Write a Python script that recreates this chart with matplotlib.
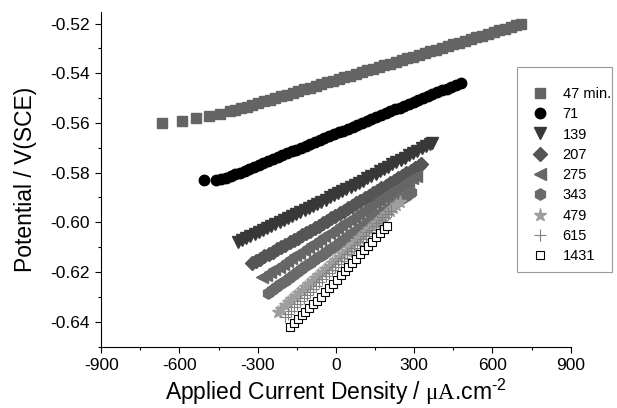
import matplotlib
matplotlib.use('Agg')
import matplotlib.pyplot as plt
from matplotlib.ticker import MultipleLocator, FormatStrFormatter
from matplotlib.patches import Rectangle

plt.rcParams['font.family'] = ['Liberation Sans', 'DejaVu Sans']
plt.rcParams['mathtext.fontset'] = 'custom'
plt.rcParams['mathtext.rm'] = 'Liberation Sans'
plt.rcParams['mathtext.sf'] = 'Liberation Serif'
plt.rcParams['mathtext.default'] = 'regular'
plt.rcParams['axes.unicode_minus'] = False

# 47 min.
x47 = [-667, -590, -535, -488, -446, -408, -386, -364, -342, -320, -298, -276, -254, -232,
       -210, -188, -166, -144, -122, -100, -78, -56, -34, -12, 10, 32, 54, 76, 98, 120, 142,
       164, 186, 208, 230, 252, 274, 296, 318, 340, 362, 384, 406, 428, 450, 472, 494, 516,
       538, 560, 582, 604, 626, 648, 670, 692, 708]
y47 = [-0.5600, -0.5592, -0.5580, -0.5572, -0.5563, -0.5552, -0.5548, -0.5541, -0.5534,
       -0.5527, -0.5520, -0.5513, -0.5507, -0.5500, -0.5493, -0.5486, -0.5479, -0.5472,
       -0.5465, -0.5458, -0.5451, -0.5444, -0.5437, -0.5430, -0.5424, -0.5417, -0.5410,
       -0.5403, -0.5396, -0.5389, -0.5382, -0.5375, -0.5368, -0.5361, -0.5354, -0.5347,
       -0.5340, -0.5333, -0.5326, -0.5319, -0.5312, -0.5305, -0.5298, -0.5291, -0.5284,
       -0.5277, -0.5270, -0.5263, -0.5256, -0.5249, -0.5242, -0.5235, -0.5228, -0.5221,
       -0.5214, -0.5207, -0.5200]

# 71
x71 = [-504, -458, -440, -422, -404, -386, -368, -350, -332, -314, -296, -278, -260, -242,
       -224, -206, -188, -170, -152, -134, -116, -98, -80, -62, -44, -26, -8, 10, 28, 46, 64,
       82, 100, 118, 136, 154, 172, 190, 208, 226, 244, 262, 280, 298, 316, 334, 352, 370,
       388, 406, 424, 442, 460, 478]
y71 = [-0.5830, -0.5830, -0.5826, -0.5820, -0.5814, -0.5807, -0.5800, -0.5792, -0.5785,
       -0.5777, -0.5769, -0.5762, -0.5754, -0.5746, -0.5738, -0.5731, -0.5723, -0.5715,
       -0.5708, -0.5700, -0.5692, -0.5685, -0.5677, -0.5669, -0.5662, -0.5654, -0.5646,
       -0.5638, -0.5631, -0.5623, -0.5615, -0.5608, -0.5600, -0.5592, -0.5585, -0.5577,
       -0.5569, -0.5562, -0.5554, -0.5546, -0.5538, -0.5531, -0.5523, -0.5515, -0.5508,
       -0.5500, -0.5492, -0.5485, -0.5477, -0.5469, -0.5462, -0.5454, -0.5446, -0.5438]

# 139
x139 = [-376, -360, -344, -328, -312, -296, -280, -264, -248, -232, -216, -200, -184, -168,
        -152, -136, -120, -104, -88, -72, -56, -40, -24, -8, 8, 24, 40, 56, 72, 88, 104,
        120, 136, 152, 168, 184, 200, 216, 232, 248, 264, 280, 296, 312, 328, 344, 360, 368]
y139 = [-0.6080, -0.6072, -0.6064, -0.6056, -0.6048, -0.6040, -0.6032, -0.6024, -0.6016,
        -0.6008, -0.6000, -0.5992, -0.5984, -0.5976, -0.5968, -0.5960, -0.5951, -0.5943,
        -0.5934, -0.5926, -0.5917, -0.5909, -0.5900, -0.5892, -0.5883, -0.5874, -0.5866,
        -0.5857, -0.5849, -0.5840, -0.5832, -0.5823, -0.5814, -0.5805, -0.5795, -0.5786,
        -0.5777, -0.5767, -0.5758, -0.5749, -0.5740, -0.5730, -0.5721, -0.5712, -0.5702,
        -0.5693, -0.5684, -0.5680]

# 207
x207 = [-322, -306, -290, -274, -258, -242, -226, -210, -194, -178, -162, -146, -130, -114,
        -98, -82, -66, -50, -34, -18, -2, 14, 30, 46, 62, 78, 94, 110, 126, 142, 158, 174,
        190, 206, 222, 238, 254, 270, 286, 302, 318, 326]
y207 = [-0.6165, -0.6156, -0.6146, -0.6137, -0.6128, -0.6118, -0.6109, -0.6100, -0.6091,
        -0.6081, -0.6072, -0.6063, -0.6053, -0.6043, -0.6033, -0.6023, -0.6013, -0.6003,
        -0.5993, -0.5983, -0.5973, -0.5963, -0.5953, -0.5943, -0.5933, -0.5923, -0.5913,
        -0.5903, -0.5893, -0.5883, -0.5873, -0.5863, -0.5853, -0.5843, -0.5833, -0.5823,
        -0.5813, -0.5803, -0.5793, -0.5783, -0.5773, -0.5766]

# 275
x275 = [-284, -268, -252, -236, -220, -204, -188, -172, -156, -140, -124, -108, -92, -76,
        -60, -44, -28, -12, 4, 20, 36, 52, 68, 84, 100, 116, 132, 148, 164, 180, 196, 212,
        228, 244, 260, 276, 292, 307]
y275 = [-0.6222, -0.6211, -0.6200, -0.6189, -0.6178, -0.6167, -0.6155, -0.6144, -0.6133,
        -0.6122, -0.6111, -0.6100, -0.6089, -0.6078, -0.6067, -0.6056, -0.6044, -0.6033,
        -0.6022, -0.6011, -0.6000, -0.5989, -0.5978, -0.5967, -0.5956, -0.5945, -0.5933,
        -0.5922, -0.5911, -0.5900, -0.5889, -0.5878, -0.5867, -0.5856, -0.5845, -0.5834,
        -0.5822, -0.5812]

# 343
x343 = [-261, -245, -229, -213, -197, -181, -165, -149, -133, -117, -101, -85, -69, -53,
        -37, -21, -5, 11, 27, 43, 59, 75, 91, 107, 123, 139, 155, 171, 187, 203, 219, 235,
        251, 267, 283, 288]
y343 = [-0.6283, -0.6271, -0.6259, -0.6248, -0.6236, -0.6224, -0.6212, -0.6200, -0.6189,
        -0.6177, -0.6165, -0.6153, -0.6141, -0.6130, -0.6118, -0.6106, -0.6094, -0.6082,
        -0.6071, -0.6059, -0.6047, -0.6035, -0.6023, -0.6012, -0.6000, -0.5988, -0.5976,
        -0.5964, -0.5953, -0.5941, -0.5929, -0.5917, -0.5905, -0.5894, -0.5882, -0.5877]

# 479
x479 = [-223, -210, -197, -184, -171, -158, -145, -132, -119, -106, -93, -80, -67, -54,
        -41, -28, -15, -2, 11, 24, 37, 50, 63, 76, 89, 102, 115, 128, 141, 154, 167, 180,
        193, 206, 219, 232, 245]
y479 = [-0.6359, -0.6347, -0.6334, -0.6322, -0.6310, -0.6298, -0.6285, -0.6273, -0.6261,
        -0.6249, -0.6237, -0.6224, -0.6212, -0.6200, -0.6188, -0.6175, -0.6163, -0.6151,
        -0.6139, -0.6126, -0.6114, -0.6102, -0.6090, -0.6077, -0.6065, -0.6053, -0.6041,
        -0.6028, -0.6016, -0.6004, -0.5992, -0.5979, -0.5967, -0.5955, -0.5943, -0.5930,
        -0.5918]

# 615
x615 = [-196, -184, -172, -160, -148, -136, -124, -112, -100, -88, -76, -64, -52, -40,
        -28, -16, -4, 8, 20, 32, 44, 56, 68, 80, 92, 104, 116, 128, 140, 152, 164, 176,
        188, 200, 212]
y615 = [-0.6380, -0.6367, -0.6355, -0.6342, -0.6330, -0.6317, -0.6305, -0.6292, -0.6280,
        -0.6267, -0.6255, -0.6242, -0.6229, -0.6217, -0.6204, -0.6192, -0.6179, -0.6167,
        -0.6154, -0.6142, -0.6129, -0.6117, -0.6104, -0.6091, -0.6079, -0.6066, -0.6054,
        -0.6041, -0.6029, -0.6016, -0.6004, -0.5991, -0.5978, -0.5966, -0.5953]

# 1431
x1431 = [-177, -162, -147, -132, -117, -102, -87, -72, -57, -42, -27, -12, 3, 18, 33, 48,
         63, 78, 93, 108, 123, 138, 153, 168, 183, 195]
y1431 = [-0.6420, -0.6405, -0.6390, -0.6375, -0.6360, -0.6345, -0.6330, -0.6315, -0.6299,
         -0.6282, -0.6265, -0.6248, -0.6231, -0.6214, -0.6197, -0.6180, -0.6163, -0.6146,
         -0.6129, -0.6112, -0.6095, -0.6078, -0.6061, -0.6044, -0.6027, -0.6015]

fig = plt.figure(figsize=(6.17, 4.08), dpi=100)
ax = fig.add_axes([0.164, 0.150, 0.761, 0.821])

ax.plot(x47, y47, 's', ms=7, color='#646464', label='47 min.')
ax.plot(x71, y71, 'o', ms=7.5, color='black', label='71')
ax.plot(x139, y139, 'v', ms=8.5, color='#383838', label='139')
ax.plot(x207, y207, 'D', ms=7.2, color='#555555', label='207')
ax.plot(x275, y275, '<', ms=9, color='#666666', label='275')
ax.plot(x343, y343, 'h', ms=8.2, color='#6a6a6a', label='343')
ax.plot(x479, y479, '*', ms=9.5, color='#9e9e9e', label='479')
ax.plot(x615, y615, '+', ms=8, mew=0.8, color='#808080', label='615')
ax.plot(x1431, y1431, 's', ms=6, mew=0.8, mfc='white', mec='black', label='1431')

ax.set_xlim(-900, 900)
ax.set_ylim(-0.6501, -0.5153)
ax.xaxis.set_major_locator(MultipleLocator(300))
ax.xaxis.set_minor_locator(MultipleLocator(150))
ax.yaxis.set_major_locator(MultipleLocator(0.02))
ax.yaxis.set_minor_locator(MultipleLocator(0.01))
ax.yaxis.set_major_formatter(FormatStrFormatter('%.2f'))
ax.tick_params(which='major', direction='out', length=4, width=0.8, labelsize=12.5, pad=4)
ax.tick_params(which='minor', direction='out', length=2.5, width=0.8)
ax.spines['top'].set_visible(False)
ax.spines['right'].set_visible(False)

ax.set_xlabel(r'Applied Current Density / $\mathsf{\mu A}$.cm$^{\text{-2}}$',
              fontsize=16.5, labelpad=3)
ax.set_ylabel('Potential / V(SCE)', fontsize=16.5, labelpad=10)

# legend without its own frame, box drawn separately
leg = ax.legend(loc='upper left', bbox_to_anchor=(528 / 617, 1 - 87 / 408),
                bbox_transform=fig.transFigure, borderaxespad=0, borderpad=0,
                fontsize=10.5, frameon=False, labelspacing=0.43,
                handlelength=1.6, handletextpad=0.77)
fig.patches.append(Rectangle((517 / 617, 1 - 272 / 408), 95 / 617, 205 / 408,
                             transform=fig.transFigure, fill=False,
                             edgecolor='#999999', linewidth=0.8))

fig.savefig('out.png', dpi=100)
